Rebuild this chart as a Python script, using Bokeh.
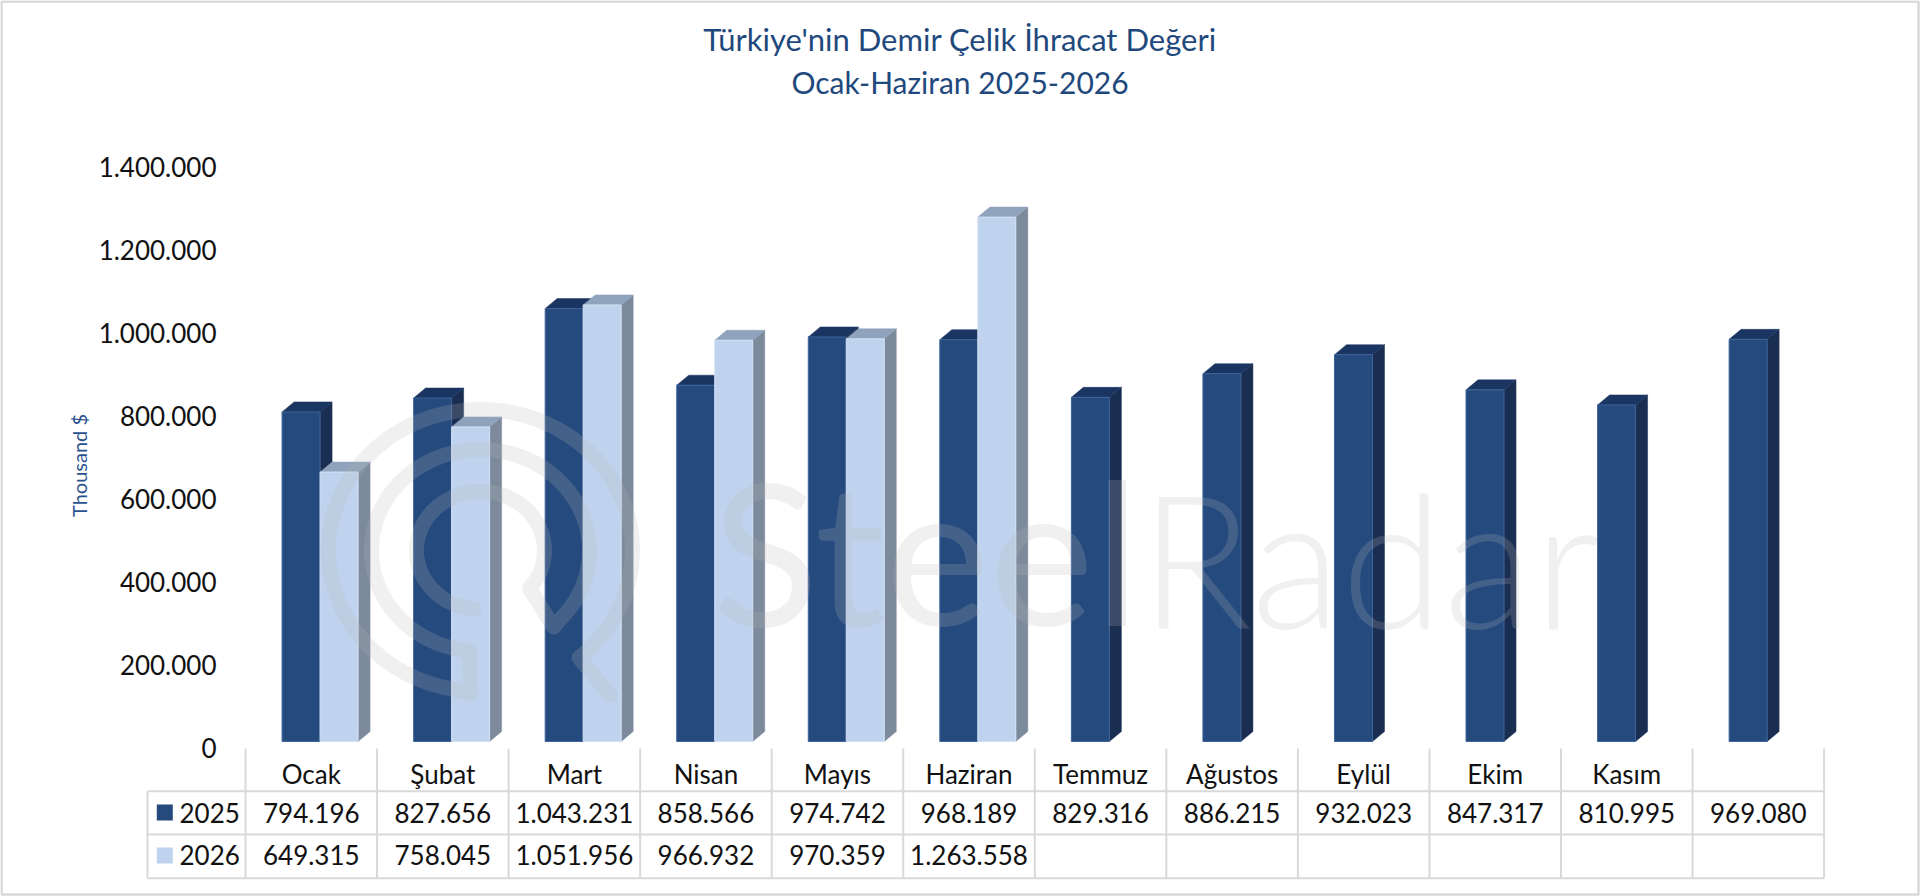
from bokeh.plotting import figure
from bokeh.embed import file_html
from bokeh.resources import INLINE
from bokeh.core.properties import value
from bokeh.models import Range1d, LinearAxis, FixedTicker, Label, ColumnDataSource
import numpy as np

months = ["Ocak", "Şubat", "Mart", "Nisan", "Mayıs", "Haziran", "Temmuz", "Ağustos", "Eylül", "Ekim", "Kasım", ""]
values_2025 = [794196, 827656, 1043231, 858566, 974742, 968189, 829316, 886215, 932023, 847317, 810995, 969080]
values_2026 = [649315, 758045, 1051956, 966932, 970359, 1263558]
y_ticks = [0, 200000, 400000, 600000, 800000, 1000000, 1200000, 1400000]
title_lines = ["Türkiye'nin Demir Çelik İhracat Değeri", "Ocak-Haziran 2025-2026"]
y_title = "Thousand $"

W, H = 1920, 896
CELL = 131.55          # px per month
X0 = 245.0             # px of the first table column line
BASE = 741.0           # px of the bars' base
PX_PER_UNIT = 83.0 / 200000
FONT = value("Lato")
TXT = "#111111"
TITLE_C = "#1F497D"
GRID = "#D9D9D9"

def fx(px):
    return (px - X0) / CELL

def fy(py):
    return (BASE - py) / PX_PER_UNIT

x_range = Range1d(fx(0), fx(W))
y_range = Range1d(fy(H), fy(0))

p = figure(width=W, height=H, x_range=x_range, y_range=y_range, x_axis_type=None, y_axis_type=None,
           output_backend="svg", toolbar_location=None, min_border=0,
           outline_line_color=None, background_fill_color="white")
p.grid.visible = False

# chart frame
p.quad(left=[fx(1)], right=[fx(1918)], top=[fy(1)], bottom=[fy(894)], fill_color=None, line_color=GRID, line_width=2.5)

# axis scale for labels: zero label sits below the bars' base
ZERO_LABEL = 747.0
p.extra_y_ranges["labels"] = Range1d(-(H - ZERO_LABEL) / PX_PER_UNIT, ZERO_LABEL / PX_PER_UNIT)

bar_w = 38 / CELL
dx = 12 / CELL
dy = 10 / PX_PER_UNIT
shift = 8.8 / CELL


def draw_series(vals, offset, front, side, top, edge):
    n = len(vals)
    lefts = [i + 0.5 + offset - bar_w / 2 for i in range(n)]
    rights = [l + bar_w for l in lefts]
    side_xs = [[r, r + dx, r + dx, r] for r in rights]
    side_ys = [[0, dy, v + dy, v] for v in vals]
    top_xs = [[l, r, r + dx, l + dx] for l, r in zip(lefts, rights)]
    top_ys = [[v, v, v + dy, v + dy] for v in vals]
    p.patches(side_xs, side_ys, fill_color=side, line_color=side, line_width=0.5)
    p.patches(top_xs, top_ys, fill_color=top, line_color=top, line_width=0.5)
    src = ColumnDataSource(dict(l=lefts, r=rights, t=vals, b=[0] * n))
    p.quad(left="l", right="r", top="t", bottom="b", source=src, fill_color=front, line_color=edge, line_width=1)


draw_series(values_2025, shift - bar_w / 2, "#254A7E", "#1A2E52", "#1B3562", "#3F649A")
draw_series(values_2026, shift + bar_w / 2, "#BFD3EE", "#7C8A9C", "#8FA3BC", "#D3E1F4")

# watermark
WM = "#B9B9B9"
WA = 0.21
cx, cy = 480.0, 550.0


def ring(rx, ry, a, b):
    t = np.radians(np.linspace(a, b, 120))
    return list(cx + rx * np.cos(t)), list(cy + ry * np.sin(t))


x3, y3 = ring(64, 59, 96, 400)
x2, y2 = ring(109, 101, 44, -264)
x1, y1 = ring(152, 141, 100, 409.6)
lx = x3 + [340 + 640 / 3] + x2 + [340 + 390 / 3] + x1 + [340 + 810 / 3]
ly = y3 + [390 + 710 / 3] + y2 + [390 + 910 / 3] + y1 + [390 + 915 / 3]
p.line([fx(v) for v in lx], [fy(v) for v in ly], line_color=WM, line_alpha=WA, line_width=15,
       line_cap="round", line_join="round")
p.text([fx(711)], [fy(549)], text=["Steel"], text_font=value("Lato"), text_font_size="198px",
       text_color=WM, text_alpha=WA, text_baseline="alphabetic", text_align="left")
p.text([fx(1139)], [fy(556)], text=["Radar"], text_font=value("Lato Light, Roboto Light, Roboto"), text_font_size="186px",
       text_color=WM, text_alpha=WA, text_baseline="alphabetic", text_align="left")

# y axis
yax = LinearAxis(y_range_name="labels", fixed_location=0, ticker=FixedTicker(ticks=y_ticks),
                 major_label_overrides={t: f"{t:,}".replace(",", ".") for t in y_ticks},
                 axis_line_color=None, major_tick_line_color=None, minor_tick_line_color=None,
                 major_label_standoff=23, major_label_text_font="Lato", major_label_text_font_size="26px",
                 major_label_text_color=TXT)
p.add_layout(yax, "left")

# month axis (table header)
xax = LinearAxis(fixed_location=fy(748), ticker=FixedTicker(ticks=[i + 0.5 for i in range(12)]),
                 major_label_overrides={i + 0.5: m for i, m in enumerate(months)},
                 axis_line_color=None, major_tick_line_color=None, minor_tick_line_color=None,
                 major_label_standoff=3, major_label_text_font="Lato", major_label_text_font_size="26px",
                 major_label_text_color=TXT)
p.add_layout(xax, "below")

# table grid
rows_y = [790.7, 834.0, 877.7]
hx0 = [fx(147)] * 3
hx1 = [12.0] * 3
hy = [fy(v) for v in rows_y]
p.segment(hx0, hy, hx1, hy, line_color=GRID, line_width=2)
p.segment(list(range(13)), [fy(748)] * 13, list(range(13)), [fy(877.7)] * 13, line_color=GRID, line_width=2)
p.segment([fx(147)], [fy(790.7)], [fx(147)], [fy(877.7)], line_color=GRID, line_width=2)

# table values
fmt = lambda v: f"{v:,}".replace(",", ".")
p.text([i + 0.5 for i in range(12)], [fy(812.7)] * 12, text=[fmt(v) for v in values_2025], text_font=FONT,
       text_font_size="26px", text_color=TXT, text_align="center", text_baseline="middle")
p.text([i + 0.5 for i in range(6)], [fy(854.7)] * 6, text=[fmt(v) for v in values_2026], text_font=FONT,
       text_font_size="26px", text_color=TXT, text_align="center", text_baseline="middle")
p.text([fx(179)] * 2, [fy(812.7), fy(854.7)], text=["2025", "2026"], text_font=FONT,
       text_font_size="26px", text_color=TXT, text_align="left", text_baseline="middle")
p.scatter([fx(164.3)] * 2, [fy(812), fy(855)], marker="square", size=16,
          fill_color=["#254A7E", "#BFD3EE"], line_color=None)

# title & y label
p.add_layout(Label(x=fx(959.5), y=fy(38), text=title_lines[0], text_font="Lato", text_font_size="31px",
                   text_color=TITLE_C, text_align="center", text_baseline="middle"))
p.add_layout(Label(x=fx(959.5), y=fy(81), text=title_lines[1], text_font="Lato", text_font_size="30px",
                   text_color=TITLE_C, text_align="center", text_baseline="middle"))
p.add_layout(Label(x=fx(78), y=fy(465), text=y_title, text_font="Lato", text_font_size="20px",
                   text_color="#2A5290", text_align="center", text_baseline="middle", angle=np.pi / 2))

open("out.html", "w").write(file_html(p, INLINE))
